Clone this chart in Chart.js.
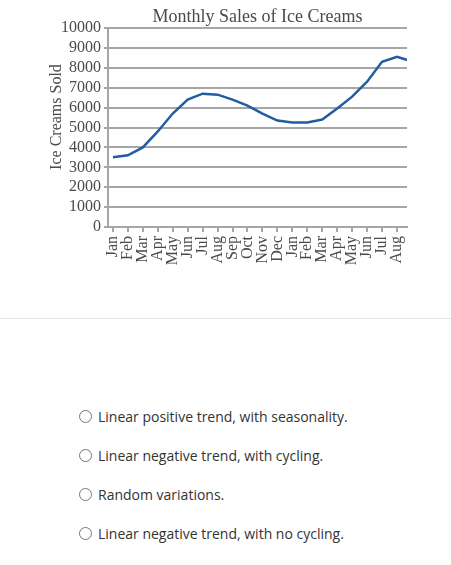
<!DOCTYPE html>
<html>
<head>
<meta charset="utf-8">
<script src="https://cdn.jsdelivr.net/npm/chart.js@4/dist/chart.umd.min.js"></script>
<style>
  body { margin: 0; background: #fff; width: 451px; height: 565px; position: relative; overflow: hidden; }
  #wrap { position: absolute; left: 0; top: 0; width: 451px; height: 290px; }
  .sep { position: absolute; left: 0; top: 318px; width: 451px; border-top: 1px solid #e3e3e3; }
  .opt { position: absolute; left: 79px; font-family: "Open Sans", sans-serif; font-size: 14px; color: #333; line-height: 20px; }
  .opt span.r { display: inline-block; width: 11px; height: 11px; border: 1px solid #777; border-radius: 50%; vertical-align: -1px; margin-right: 6px; }
</style>
</head>
<body>
<div id="wrap"><canvas id="out"></canvas></div>
<div class="sep"></div>
<div class="opt" style="top:407px"><span class="r"></span>Linear positive trend, with seasonality.</div>
<div class="opt" style="top:446px"><span class="r"></span>Linear negative trend, with cycling.</div>
<div class="opt" style="top:485px"><span class="r"></span>Random variations.</div>
<div class="opt" style="top:524px"><span class="r"></span>Linear negative trend, with no cycling.</div>
<script>
// months on the axis (the last point runs past the edge of the plot)
const months = ["Jan", "Feb", "Mar", "Apr", "May", "Jun", "Jul", "Aug", "Sep", "Oct", "Nov", "Dec",
                "Jan", "Feb", "Mar", "Apr", "May", "Jun", "Jul", "Aug", "Sep"];
const sales = [3500, 3600, 4000, 4800, 5700, 6400, 6700, 6650, 6400, 6100, 5700, 5350,
               5250, 5250, 5400, 5950, 6550, 7300, 8300, 8550, 8320];
const shownMonths = 20;
const yTicks = [0, 1000, 2000, 3000, 4000, 5000, 6000, 7000, 8000, 9000, 10000];

const chartTitle = "Monthly Sales of Ice Creams";
const yTitle = "Ice Creams Sold";

const gridGrey = "#a6a6a6";
const textGrey = "#4a4a4a";
const serif = "Liberation Serif, serif";

Chart.defaults.font.family = serif;
Chart.defaults.color = textGrey;

// titles centred on the plot area, like the original
const titlesPlugin = {
  id: "titles",
  afterDraw(chart) {
    const ctx = chart.ctx;
    const area = chart.chartArea;
    ctx.save();
    ctx.fillStyle = textGrey;
    ctx.textAlign = "center";
    ctx.textBaseline = "middle";
    ctx.font = "18px " + serif;
    ctx.fillText(chartTitle, (area.left + area.right) / 2, 17);
    ctx.translate(57, 117);
    ctx.rotate(-Math.PI / 2);
    ctx.font = "16px " + serif;
    ctx.fillText(yTitle, 0, 0);
    ctx.restore();
  }
};

new Chart(document.getElementById("out").getContext("2d"), {
  type: "line",
  data: {
    datasets: [{
      data: sales.map((v, i) => ({ x: i, y: v })),
      borderColor: "rgb(35, 92, 160)",
      borderWidth: 2.5,
      pointRadius: 0,
      tension: 0,
      clip: 0
    }]
  },
  options: {
    responsive: true,
    maintainAspectRatio: false,
    animation: false,
    layout: { padding: { top: 28, right: 44, left: 0, bottom: 0 } },
    plugins: { legend: { display: false }, tooltip: { enabled: false } },
    scales: {
      x: {
        type: "linear",
        min: -0.33,
        max: 19.67,
        afterFit(scale) { scale.height = 63; },
        afterBuildTicks(scale) {
          scale.ticks = months.slice(0, shownMonths).map((m, i) => ({ value: i }));
        },
        ticks: {
          autoSkip: false,
          minRotation: 90,
          maxRotation: 90,
          padding: 4,
          color: textGrey,
          font: { family: serif, size: 16 },
          callback: v => months[v]
        },
        grid: { drawOnChartArea: false, color: gridGrey, lineWidth: 2, tickLength: 5 },
        border: { color: gridGrey, width: 2 }
      },
      y: {
        min: 0,
        max: 10000,
        afterFit(scale) { scale.width = 108; },
        afterBuildTicks(scale) { scale.ticks = yTicks.map(v => ({ value: v })); },
        ticks: {
          autoSkip: false,
          padding: 3,
          color: textGrey,
          font: { family: serif, size: 16 },
          callback: v => String(v)
        },
        grid: { color: gridGrey, lineWidth: 2, tickLength: 4 },
        border: { color: gridGrey, width: 2 }
      }
    }
  },
  plugins: [titlesPlugin]
});
</script>
</body>
</html>
